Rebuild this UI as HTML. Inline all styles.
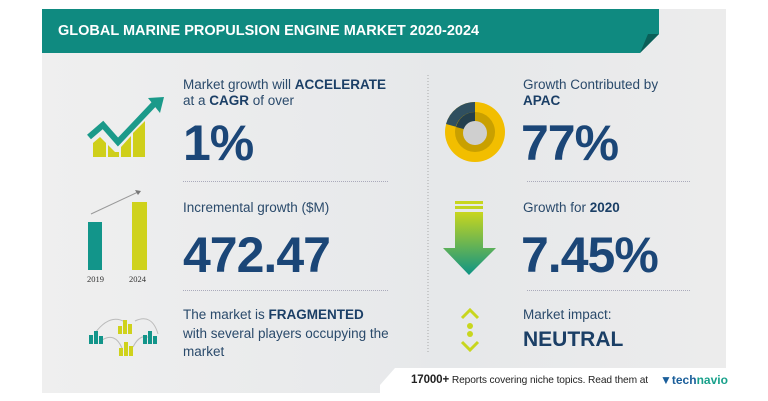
<!DOCTYPE html>
<html><head><meta charset="utf-8"><style>
html,body{margin:0;padding:0;background:#fff;width:768px;height:401px;overflow:hidden;font-family:"Liberation Sans",sans-serif}
.t{position:absolute;white-space:nowrap;color:#2a4a6b}
.s{font-size:13.5px}
.big{font-weight:bold;color:#1b4677;font-size:50px;letter-spacing:-1px}
.dot{position:absolute;border-top:1px dotted #aab}
</style></head><body>
<div style="position:absolute;left:42px;top:9px;width:684px;height:384px;background:linear-gradient(90deg,#efefef,#e6e8ea 60%,#ececec)"></div>
<svg style="position:absolute;left:0;top:0" width="768" height="401">
<polygon points="42,9 659,9 659,34 640,53 42,53" fill="#0f8a80"/>
<polygon points="640,53 659,34 648,34" fill="#0a5f58"/>
<polygon points="395,368 726,368 726,401 380,401 380,385" fill="#fff"/>
<g fill="#cfcf1a">
<polygon points="93,143 100,137 106,143 106,157 93,157"/>
<polygon points="108,145 115,152 119,152 119,157 108,157"/>
<polygon points="121,147 131,136 131,157 121,157"/>
<polygon points="133,133 145,121 145,157 133,157"/>
</g>
<polyline points="89,137 103,125 118,142 155,103" fill="none" stroke="#1b9a8a" stroke-width="6"/>
<polygon points="148,98 164,97 160,113" fill="#1b9a8a"/>
<rect x="88" y="222" width="14" height="48" fill="#12958a"/>
<rect x="132" y="202" width="15" height="68" fill="#cfd21c"/>
<line x1="91" y1="214" x2="138" y2="192" stroke="#999" stroke-width="1"/>
<polygon points="135,190 141,191 138,195" fill="#777"/>
<text x="87" y="282" font-size="8.5" fill="#333" font-family="Liberation Serif">2019</text>
<text x="129" y="282" font-size="8.5" fill="#333" font-family="Liberation Serif">2024</text>
<path d="M95,333 Q110,313 125,322 M135,321 Q152,313 158,334 M102,340 Q115,332 122,348 M133,347 Q140,333 150,338" fill="none" stroke="#bbb" stroke-width="1"/>
<g fill="#12958a"><rect x="89" y="335" width="4" height="9"/><rect x="94" y="331" width="4" height="13"/><rect x="99" y="336" width="4" height="8"/><rect x="143" y="335" width="4" height="9"/><rect x="148" y="331" width="4" height="13"/><rect x="153" y="336" width="4" height="8"/></g>
<g fill="#cfd21c"><rect x="118" y="326" width="4" height="8"/><rect x="123" y="320" width="4" height="14"/><rect x="128" y="324" width="4" height="10"/><rect x="119" y="348" width="4" height="8"/><rect x="124" y="342" width="4" height="14"/><rect x="129" y="346" width="4" height="10"/></g>
<line x1="428" y1="75" x2="428" y2="352" stroke="#aaa" stroke-dasharray="1,2"/>
<circle cx="475" cy="132" r="30" fill="#f2be00"/>
<path d="M475,132 L475,102 A30,30 0 0 0 446,124 Z" fill="#2f4f5f"/>
<circle cx="475" cy="132" r="20" fill="#c9a000"/>
<path d="M475,132 L475,112 A20,20 0 0 0 456,127 Z" fill="#243f4c"/>
<circle cx="475" cy="133" r="12" fill="#cfcfcf"/>
<defs><linearGradient id="g" x1="0" y1="0" x2="0" y2="1"><stop offset="0" stop-color="#c8d61e"/><stop offset="1" stop-color="#0e9485"/></linearGradient></defs>
<rect x="455" y="201" width="28" height="3" fill="#c8d61e"/>
<rect x="455" y="206" width="28" height="3" fill="#c2d420"/>
<polygon points="455,212 483,212 483,248 496,248 469,275 443,248 455,248" fill="url(#g)"/>
<polyline points="462,318 470,310 478,318" fill="none" stroke="#c8d61e" stroke-width="3"/>
<circle cx="470" cy="326" r="3" fill="#c8d61e"/><circle cx="470" cy="334" r="3" fill="#c8d61e"/>
<polyline points="462,342 470,350 478,342" fill="none" stroke="#c8d61e" stroke-width="3"/>
</svg>
<div class="t" style="left:58px;top:23px;color:#fff;font-weight:bold;font-size:14.5px">GLOBAL MARINE PROPULSION ENGINE MARKET 2020-2024</div>
<div class="t s" style="left:183px;top:77px">Market growth will <b style="color:#1b3f66">ACCELERATE</b></div>
<div class="t s" style="left:183px;top:93px">at a <b style="color:#1b3f66">CAGR</b> of over</div>
<div class="t big" style="left:183px;top:114px">1%</div>
<div class="dot" style="left:183px;top:181px;width:205px"></div>
<div class="t s" style="left:183px;top:200px">Incremental growth ($M)</div>
<div class="t big" style="left:183px;top:226px">472.47</div>
<div class="dot" style="left:183px;top:290px;width:205px"></div>
<div class="t s" style="left:183px;top:307px">The market is <b style="color:#1b3f66">FRAGMENTED</b></div>
<div class="t s" style="left:183px;top:326px">with several players occupying the</div>
<div class="t s" style="left:183px;top:344px">market</div>
<div class="t s" style="left:523px;top:77px">Growth Contributed by</div>
<div class="t s" style="left:523px;top:93px;font-weight:bold;color:#1b3f66">APAC</div>
<div class="t big" style="left:521px;top:114px">77%</div>
<div class="dot" style="left:527px;top:181px;width:163px"></div>
<div class="t s" style="left:523px;top:200px">Growth for <b style="color:#1b3f66">2020</b></div>
<div class="t big" style="left:521px;top:226px">7.45%</div>
<div class="dot" style="left:527px;top:290px;width:163px"></div>
<div class="t s" style="left:523px;top:307px">Market impact:</div>
<div class="t" style="left:523px;top:328px;font-weight:bold;font-size:21px;color:#1b3f66">NEUTRAL</div>
<div class="t" style="left:411px;top:374px;font-size:10.2px;color:#222;letter-spacing:-0.1px"><b style="font-size:11.5px">17000+</b> Reports covering niche topics. Read them at</div>
<div class="t" style="left:660px;top:373px;font-size:12px;font-weight:bold;color:#1a5e9a">&#9660;<span>tech</span><span style="color:#17a08a">navio</span></div>
</body></html>
